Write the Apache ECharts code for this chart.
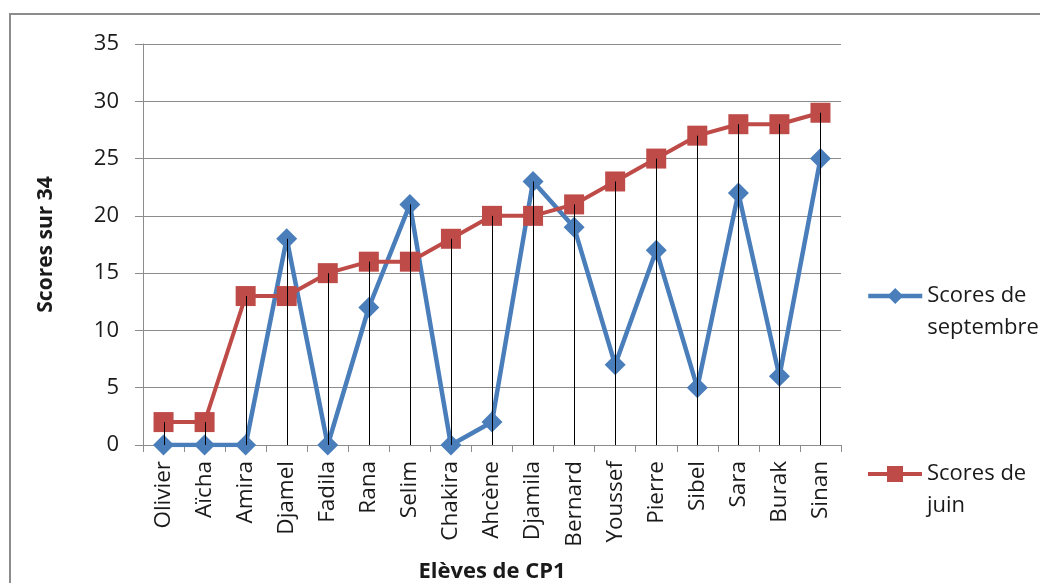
<!DOCTYPE html>
<html><head><meta charset="utf-8">
<script src="https://cdn.jsdelivr.net/npm/echarts@6/dist/echarts.min.js"></script>
<style>html,body{margin:0;padding:0;background:#fff}#c{width:1040px;height:583px}</style>
</head><body><div id="c"></div>
<script>
const categories = ['Olivier','Aïcha','Amira','Djamel','Fadila','Rana','Selim','Chakira','Ahcène','Djamila','Bernard','Youssef','Pierre','Sibel','Sara','Burak','Sinan'];
const septembre = [0,0,0,18,0,12,21,0,2,23,19,7,17,5,22,6,25];
const juin = [2,2,13,13,15,16,16,18,20,20,21,23,25,27,28,28,29];
const yTicks = [0,5,10,15,20,25,30,35];

const dropData = categories.map((c,i)=>[i, Math.max(septembre[i], juin[i])]);
const FONT = 'Open Sans';
const TXT = '#1a1a1a';
const legendText = {fontFamily:FONT,fontSize:22,color:TXT,lineHeight:32};
const chart = echarts.init(document.getElementById('c'));
chart.setOption({
  animation:false,
  textStyle:{fontFamily:FONT},
  graphic:[{type:'rect',shape:{x:10,y:14,width:1100,height:700},style:{fill:'none',stroke:'#8c8c8c',lineWidth:2},z:-10}],
  grid:{left:143,right:199,top:44,bottom:138,outerBoundsMode:'none',containLabel:false},
  legend:[
    {data:['Scores de\nseptembre'],left:861,top:243,orient:'vertical',itemWidth:54,itemHeight:20,itemGap:0,
     formatter:n=>'\n'+n,lineStyle:{width:4.5},textStyle:legendText},
    {data:['Scores de\njuin'],left:861,top:421,orient:'vertical',itemWidth:54,itemHeight:20,itemGap:0,
     formatter:n=>'\n'+n,lineStyle:{width:4},textStyle:legendText}
  ],
  xAxis:{type:'category',data:categories,boundaryGap:true,
    axisLine:{lineStyle:{color:'#8c8c8c',width:1}},
    axisTick:{show:true,length:7,lineStyle:{color:'#8c8c8c'}},
    axisLabel:{rotate:90,fontSize:22.5,color:TXT,margin:16,fontFamily:FONT},
    name:'Elèves de CP1',nameLocation:'middle',nameGap:116,
    nameTextStyle:{fontSize:22,fontWeight:'bold',color:TXT,fontFamily:FONT}},
  yAxis:{type:'value',min:0,max:35,interval:5,
    axisLine:{show:true,lineStyle:{color:'#8c8c8c'}},
    axisTick:{show:true,length:8,lineStyle:{color:'#8c8c8c'}},
    splitLine:{lineStyle:{color:'#8c8c8c',width:1}},
    axisLabel:{fontSize:22,color:TXT,margin:24,fontFamily:FONT,
      formatter:v=>yTicks.includes(v)?String(v):''},
    name:'Scores sur 34',nameLocation:'middle',nameGap:86,
    nameTextStyle:{fontSize:21,fontWeight:'bold',color:TXT,fontFamily:FONT}},
  series:[
    {name:'Scores de\nseptembre',type:'line',data:septembre,symbol:'diamond',symbolSize:21,
     lineStyle:{color:'#4a7ebb',width:4.5},itemStyle:{color:'#4a7ebb'},z:3},
    {name:'Scores de\njuin',type:'line',data:juin,symbol:'rect',symbolSize:20,
     lineStyle:{color:'#be4b48',width:4},itemStyle:{color:'#be4b48'},z:4},
    {type:'custom',data:dropData,z:10,silent:true,
     renderItem:(params,api)=>{
       const top=api.coord([api.value(0),api.value(1)]);
       const bot=api.coord([api.value(0),0]);
       return {type:'line',shape:{x1:Math.round(top[0])+0.5,y1:top[1],x2:Math.round(bot[0])+0.5,y2:bot[1]},style:{stroke:'#000',lineWidth:1}};
     }}
  ]
});
</script></body></html>
